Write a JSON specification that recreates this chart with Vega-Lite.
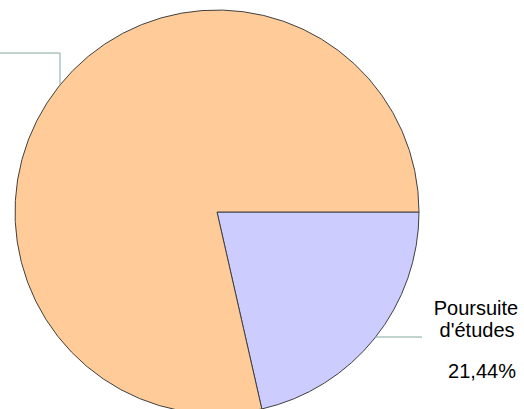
{
  "$schema": "https://vega.github.io/schema/vega-lite/v6.json",
  "width": 524,
  "height": 409,
  "padding": 0,
  "autosize": {"type": "none"},
  "config": {"view": {"stroke": null}},
  "datasets": {
    "slices": [
      {"cat": "Poursuite d'études", "pct": 21.44, "ord": 1, "cx": 0, "cy": 0},
      {"cat": "Autre", "pct": 78.56, "ord": 2, "cx": 0, "cy": 0}
    ],
    "leaders": [
      {"line": "a", "i": 1, "x": -1.08, "y": 0.7871},
      {"line": "a", "i": 2, "x": -0.7772, "y": 0.7871},
      {"line": "a", "i": 3, "x": -0.7772, "y": 0.6238},
      {"line": "b", "i": 1, "x": 0.7822, "y": -0.6188},
      {"line": "b", "i": 2, "x": 1.0149, "y": -0.6188}
    ],
    "labels": [
      {"txt": "Poursuite", "x": 1.2822, "y": -0.5099},
      {"txt": "d'études", "x": 1.2872, "y": -0.6188},
      {"txt": "21,44%", "x": 1.3119, "y": -0.8218}
    ]
  },
  "layer": [
    {
      "data": {"name": "slices"},
      "mark": {"type": "arc", "outerRadius": 202, "stroke": "#404040", "strokeWidth": 1},
      "encoding": {
        "x": {"field": "cx", "type": "quantitative", "scale": {"domain": [-1.0743, 1.5198], "nice": false, "zero": false}, "axis": null},
        "y": {"field": "cy", "type": "quantitative", "scale": {"domain": [-0.9752, 1.0495], "nice": false, "zero": false}, "axis": null},
        "theta": {"field": "pct", "type": "quantitative", "stack": true, "scale": {"range": [1.5708, 7.854]}},
        "order": {"field": "ord", "type": "quantitative"},
        "color": {"field": "cat", "type": "nominal", "scale": {"domain": ["Poursuite d'études", "Autre"], "range": ["#ccccff", "#ffcc99"]}, "legend": null}
      }
    },
    {
      "data": {"name": "leaders"},
      "mark": {"type": "line", "color": "#80a8a0", "strokeWidth": 1},
      "encoding": {
        "x": {"field": "x", "type": "quantitative", "scale": {"domain": [-1.0743, 1.5198], "nice": false, "zero": false}, "axis": null},
        "y": {"field": "y", "type": "quantitative", "scale": {"domain": [-0.9752, 1.0495], "nice": false, "zero": false}, "axis": null},
        "detail": {"field": "line"},
        "order": {"field": "i", "type": "quantitative"}
      }
    },
    {
      "data": {"name": "labels"},
      "mark": {"type": "text", "font": "Liberation Sans", "fontSize": 20, "align": "center", "baseline": "alphabetic", "color": "#000000"},
      "encoding": {
        "x": {"field": "x", "type": "quantitative", "scale": {"domain": [-1.0743, 1.5198], "nice": false, "zero": false}, "axis": null},
        "y": {"field": "y", "type": "quantitative", "scale": {"domain": [-0.9752, 1.0495], "nice": false, "zero": false}, "axis": null},
        "text": {"field": "txt"}
      }
    }
  ]
}
